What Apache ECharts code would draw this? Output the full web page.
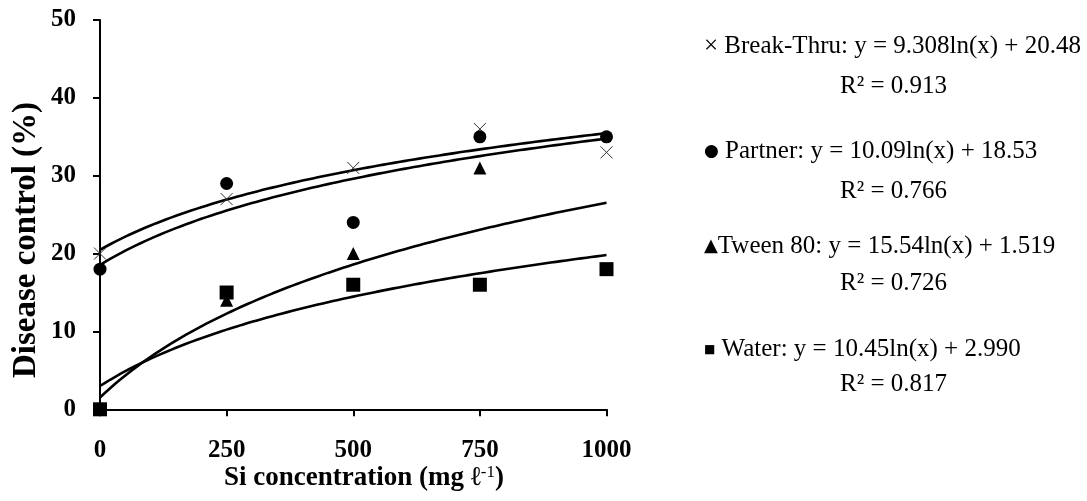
<!DOCTYPE html>
<html>
<head>
<meta charset="utf-8">
<script src="https://cdn.jsdelivr.net/npm/echarts@6/dist/echarts.min.js"></script>
<style>
  html, body { margin: 0; padding: 0; background: #fff; }
  #chart { width: 1087px; height: 501px; }
</style>
</head>
<body>
<div id="chart"></div>
<script>
// Si concentration levels (mg per litre), plotted at positions 1..5
const siLevels = ['0', '250', '500', '750', '1000'];

// Disease control (%) for each treatment
const seriesNames = ['Break-Thru', 'Partner', 'Tween 80', 'Water'];
const breakThru = [20, 27, 31, 36, 33];
const partner   = [18, 29, 24, 35, 35];
const tween80   = [0, 14, 20, 31, 18];
const water     = [0, 15, 16, 16, 18];

// Logarithmic trendline coefficients: y = slope * ln(x) + intercept
const slopes     = ['9.308', '10.09', '15.54', '10.45'];
const intercepts = ['20.48', '18.53', '1.519', '2.990'];
const rSquared   = ['0.913', '0.766', '0.726', '0.817'];

// Y axis ticks
const yTicks = [0, 10, 20, 30, 40, 50];

const values = [breakThru, partner, tween80, water];
const serif = '"Liberation Serif", "Times New Roman", serif';

// Marker shapes for each treatment
const markers = [
  { symbol: 'path://M0,0L10,10M0,10L10,0', size: 12,
    style: { color: 'none', borderColor: '#333', borderWidth: 1, opacity: 1 } },
  { symbol: 'circle', size: 13, style: { color: '#000', opacity: 1 } },
  { symbol: 'triangle', size: 13, style: { color: '#000', opacity: 1 } },
  { symbol: 'rect', size: 14, style: { color: '#000', opacity: 1 } }
];

// Sample the fitted log curve across the plotted range
function trendPoints(i) {
  const a = parseFloat(slopes[i]);
  const b = parseFloat(intercepts[i]);
  const pts = [];
  for (let k = 0; k <= 100; k++) {
    const x = 1 + k * 0.04;
    pts.push([x, a * Math.log(x) + b]);
  }
  return pts;
}

const series = [];
values.forEach((vals, i) => {
  series.push({
    name: seriesNames[i] + ' trend',
    type: 'line',
    data: trendPoints(i),
    showSymbol: false,
    smooth: false,
    lineStyle: { color: '#000', width: 2.6 },
    z: 2,
    silent: true
  });
});
values.forEach((vals, i) => {
  series.push({
    name: seriesNames[i],
    type: 'scatter',
    data: vals.map((v, j) => [j + 1, v]),
    symbol: markers[i].symbol,
    symbolSize: markers[i].size,
    itemStyle: markers[i].style,
    z: 3 + i
  });
});

// Equation labels to the right of the plot
const legendSymbols = ['×', '●', '▲', '■'];
const symbolGap = [' ', ' ', '', ' '];
const symbolStyles = {
  x: { fontSize: 25, fontFamily: serif, color: '#000' },
  c: { fontSize: 17, fontFamily: '"DejaVu Sans", sans-serif', color: '#000' },
  t: { fontSize: 18, fontFamily: '"DejaVu Sans", sans-serif', color: '#000' },
  s: { fontSize: 12, fontFamily: '"DejaVu Sans", sans-serif', color: '#000' }
};
const symKeys = ['x', 'c', 't', 's'];
const eqY = [45, 150, 245, 348];
const r2Y = [85, 190, 282, 383];
const graphics = [];
seriesNames.forEach((name, i) => {
  graphics.push({
    type: 'text', left: 704, top: eqY[i] - 11,
    style: {
      text: '{' + symKeys[i] + '|' + legendSymbols[i] + '}' + symbolGap[i] +
            name + ': y = ' + slopes[i] + 'ln(x) + ' + intercepts[i],
      font: '25px ' + serif, fill: '#000',
      rich: symbolStyles
    }
  });
  graphics.push({
    type: 'text', left: 840, top: r2Y[i] - 11,
    style: { text: 'R² = ' + rSquared[i], font: '25px ' + serif, fill: '#000' }
  });
});

// Axis titles
graphics.push({
  type: 'text', x: 26, y: 240, rotation: Math.PI / 2,
  style: {
    text: 'Disease control (%)', font: 'bold 33px ' + serif, fill: '#000',
    align: 'center', verticalAlign: 'middle'
  }
});
graphics.push({
  type: 'text', x: 364, y: 478,
  style: {
    text: 'Si concentration (mg ℓ{sup|-1})',
    font: 'bold 27px ' + serif, fill: '#000',
    align: 'center', verticalAlign: 'middle',
    rich: { sup: { fontSize: 17, fontFamily: serif, fontWeight: 'normal', verticalAlign: 'top', color: '#000' } }
  }
});

const chart = echarts.init(document.getElementById('chart'), null, { renderer: 'canvas' });
chart.setOption({
  backgroundColor: '#fff',
  animation: false,
  grid: { left: 100, right: 480.5, top: 20, bottom: 91.7 },
  xAxis: {
    type: 'value', min: 1, max: 5, interval: 1,
    axisLine: { show: true, lineStyle: { color: '#000', width: 2 } },
    axisTick: { show: true, length: 7, lineStyle: { color: '#000', width: 2 } },
    splitLine: { show: false },
    axisLabel: {
      margin: 29, color: '#000', fontFamily: serif, fontWeight: 'bold', fontSize: 25,
      formatter: v => siLevels[Math.round(v) - 1]
    }
  },
  yAxis: {
    type: 'value', min: yTicks[0], max: yTicks[yTicks.length - 1], interval: 10,
    axisLine: { show: true, lineStyle: { color: '#000', width: 2 } },
    axisTick: { show: true, length: 7, lineStyle: { color: '#000', width: 2 } },
    splitLine: { show: false },
    axisLabel: { margin: 24, color: '#000', fontFamily: serif, fontWeight: 'bold', fontSize: 25 }
  },
  graphic: graphics,
  series: series
});
</script>
</body>
</html>
